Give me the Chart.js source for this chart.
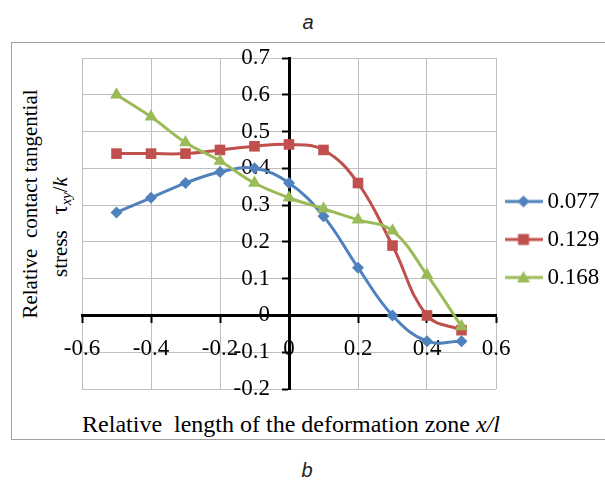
<!DOCTYPE html>
<html>
<head>
<meta charset="utf-8">
<script src="https://cdn.jsdelivr.net/npm/chart.js@4.4.1/dist/chart.umd.min.js"></script>
<style>
  html, body { margin: 0; padding: 0; background: #fff; }
  #wrap { position: relative; width: 605px; height: 481px; overflow: hidden; }
  #frame { position: absolute; left: 11px; top: 42px; width: 610px; height: 398px; border: 1px solid #a0a0a0; box-sizing: border-box; }
  #wrap canvas { position: absolute; left: 0; top: 0; }
  .cap { position: absolute; font-family: "Liberation Sans", Arial, sans-serif; font-style: italic; font-size: 20px; color: #222; line-height: 1; transform: translate(-50%, -50%); }
  .ttl { position: absolute; font-family: "Liberation Serif", "Times New Roman", serif; color: #000; line-height: 1; white-space: nowrap; }
  .ytl { font-size: 21px; transform: translate(-50%, -50%) rotate(-90deg); }
  .xtl { font-size: 24px; transform: translate(-50%, -50%); }
  sub { font-size: 0.7em; vertical-align: -0.3em; line-height: 0; }
</style>
</head>
<body>
<div id="wrap">
  <div class="cap" style="left:308px; top:22px;">a</div>
  <div id="frame"></div>
  <div class="ttl ytl" style="left:30px; top:204px;">Relative&nbsp; contact tangential</div>
  <div class="ttl ytl" style="left:59px; top:227px;">stress&nbsp;&nbsp; <span style="font-size:23px">τ</span><sub><i>xy</i></sub>/<i>k</i></div>
  <div class="ttl xtl" style="left:291px; top:424px;">Relative&nbsp; length of the deformation zone <i>x/l</i></div>
  <div class="cap" style="left:307px; top:470px;">b</div>
  <canvas id="grafico" width="605" height="481"></canvas>
</div>
<script>
// posicao relativa na zona de deformacao
const xValores = [-0.5, -0.4, -0.3, -0.2, -0.1, 0, 0.1, 0.2, 0.3, 0.4, 0.5];
// tensao tangencial relativa para cada serie
const serie077 = [0.28, 0.32, 0.36, 0.39, 0.40, 0.36, 0.27, 0.13, 0.00, -0.07, -0.07];
const serie129 = [0.44, 0.44, 0.44, 0.45, 0.46, 0.465, 0.45, 0.36, 0.19, 0.00, -0.04];
const serie168 = [0.60, 0.54, 0.47, 0.42, 0.36, 0.32, 0.29, 0.26, 0.23, 0.11, -0.03];
const nomesSeries = ["0.077", "0.129", "0.168"];
const coresSeries = ["#4F81BD", "#C0504D", "#9BBB59"];
const marcadores = ["rectRot", "rect", "triangle"];
const tamanhos = [6, 7.5, 7.5];
const eixoX = { min: -0.6, max: 0.6, passo: 0.2 };
const eixoY = { min: -0.2, max: 0.7, passo: 0.1 };

const fonteSerif = "'Liberation Serif', 'Times New Roman', serif";

function pontos(valores) {
    return xValores.map((x, i) => ({ x: x, y: valores[i] }));
}

function formatar(v) {
    return String(Number(v.toFixed(1)));
}

// desenha o simbolo da legenda (linha + marcador)
function simboloLegenda(cor, tipo) {
    const c = document.createElement("canvas");
    c.width = 38;
    c.height = 16;
    const g = c.getContext("2d");
    g.strokeStyle = cor;
    g.fillStyle = cor;
    g.lineWidth = 3;
    g.beginPath();
    g.moveTo(0, 8);
    g.lineTo(38, 8);
    g.stroke();
    g.beginPath();
    if (tipo === "rectRot") {
        g.moveTo(19, 2); g.lineTo(25, 8); g.lineTo(19, 14); g.lineTo(13, 8);
    } else if (tipo === "rect") {
        g.rect(13.5, 2.5, 11, 11);
    } else {
        g.moveTo(19, 1.5); g.lineTo(25.5, 13); g.lineTo(12.5, 13);
    }
    g.closePath();
    g.fill();
    return c;
}

// rotulos do eixo y ficam a esquerda do eixo vertical (que cruza em x = 0)
const rotulosY = {
    id: "rotulosY",
    beforeDatasetsDraw(chart) {
        const g = chart.ctx;
        const ys = chart.scales.y;
        const xBase = chart.scales.x.getPixelForValue(0) - 19;
        g.save();
        g.fillStyle = "#000";
        g.font = "23px " + fonteSerif;
        g.textAlign = "right";
        g.textBaseline = "middle";
        ys.ticks.forEach(t => {
            g.fillText(formatar(t.value), xBase, ys.getPixelForValue(t.value));
        });
        g.restore();
    }
};

const dados = [serie077, serie129, serie168];
const datasets = dados.map((valores, i) => ({
    label: nomesSeries[i],
    data: pontos(valores),
    borderColor: coresSeries[i],
    backgroundColor: coresSeries[i],
    borderWidth: 3,
    pointStyle: marcadores[i],
    pointRadius: tamanhos[i],
    pointBorderWidth: 0,
    tension: 0.4,
    order: 2 - i
}));

const ctx = document.getElementById("grafico").getContext("2d");
const chart = new Chart(ctx, {
    type: "line",
    data: { datasets: datasets },
    plugins: [rotulosY],
    options: {
        responsive: false,
        animation: false,
        events: [],
        layout: { padding: { left: 82, top: 58, right: 0, bottom: 92 } },
        scales: {
            x: {
                type: "linear",
                min: eixoX.min,
                max: eixoX.max,
                position: { y: 0 },
                ticks: { stepSize: eixoX.passo, autoSkip: false, color: "#000", font: { family: fonteSerif, size: 23 }, padding: 14, callback: v => formatar(v) },
                grid: { color: "#bfbfbf", tickColor: "#000", tickLength: 6, tickWidth: 2 },
                border: { color: "#000", width: 3 }
            },
            y: {
                type: "linear",
                min: eixoY.min,
                max: eixoY.max,
                position: { x: 0 },
                ticks: { stepSize: eixoY.passo, autoSkip: false, display: false },
                grid: { color: "#bfbfbf", tickColor: "#000", tickLength: 6, tickWidth: 2 },
                border: { color: "#000", width: 3 }
            }
        },
        plugins: {
            tooltip: { enabled: false },
            legend: {
                position: "right",
                maxWidth: 109,
                title: { display: true, text: " ", font: { size: 22, lineHeight: 1 }, padding: 5 },
                labels: {
                    color: "#000",
                    font: { family: fonteSerif, size: 23 },
                    usePointStyle: true,
                    pointStyleWidth: 25,
                    padding: 15,
                    generateLabels: function (c) {
                        return c.data.datasets.map((ds, i) => ({
                            text: ds.label,
                            pointStyle: simboloLegenda(coresSeries[i], marcadores[i]),
                            fillStyle: coresSeries[i],
                            strokeStyle: coresSeries[i],
                            lineWidth: 0,
                            fontColor: "#000",
                            hidden: false,
                            datasetIndex: i
                        }));
                    }
                }
            }
        }
    }
});
</script>
</body>
</html>
